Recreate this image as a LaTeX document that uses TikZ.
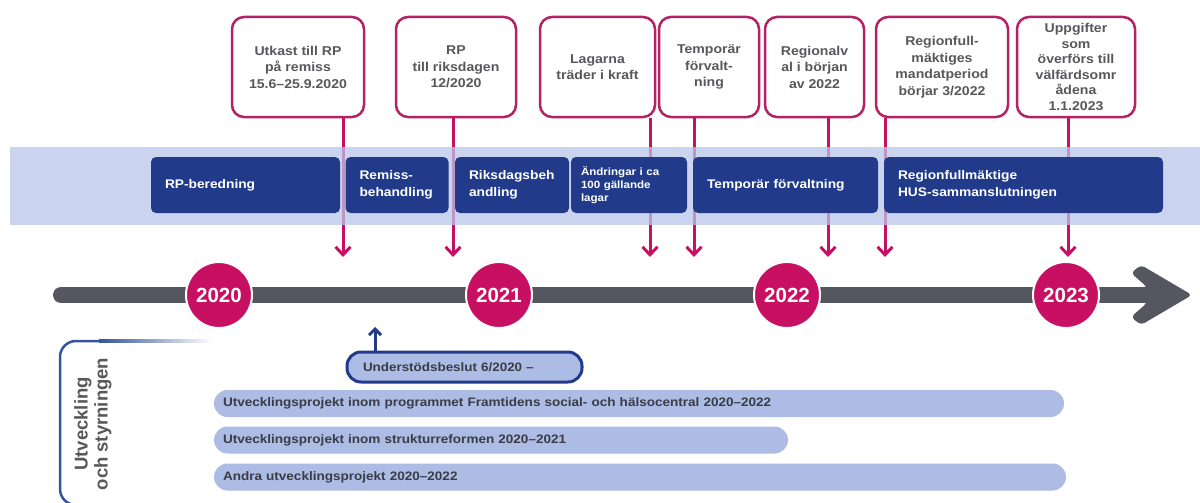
\documentclass[tikz,border=0pt]{standalone}
\usepackage{fontspec}
\setmainfont{Liberation Sans}
\newfontfamily\widesans{Liberation Sans}[FakeStretch=1.1]
\usepackage{tikz}
\usetikzlibrary{arrows.meta}

\definecolor{ptpink}{RGB}{200,16,98}
\definecolor{ptpinkdark}{RGB}{178,34,100}
\definecolor{ptnavy}{RGB}{33,59,138}
\definecolor{ptband}{RGB}{184,197,232}
\definecolor{ptbar}{RGB}{172,188,228}
\definecolor{ptgrey}{RGB}{84,86,96}
\definecolor{ptframe}{RGB}{52,84,156}
\definecolor{pttext}{RGB}{88,88,92}
\definecolor{ptbartext}{RGB}{58,60,70}

\begin{document}
\begin{tikzpicture}[x=1pt, y=-1pt,
  milestone/.style={draw=ptpinkdark, line width=2.5, rounded corners=12, fill=white,
    minimum height=100, inner sep=2, align=center, text=pttext,
    font=\widesans\bfseries\fontsize{12.8}{16.5}\selectfont},
  phase/.style={fill=ptnavy, rounded corners=5, minimum height=56, inner xsep=14,
    align=left, text=white, font=\widesans\bfseries\fontsize{12.5}{17}\selectfont},
  drop/.style={draw=ptpink, line width=3, -{Straight Barb[length=8pt,width=15pt]}},
  year/.style={circle, fill=ptpink, draw=white, line width=2, minimum size=66, inner sep=0,
    text=white, font=\bfseries\fontsize{20.5}{20.5}\selectfont},
  pill/.style={draw=ptnavy, line width=3, fill=ptbar, rounded corners=14, minimum height=30,
    inner xsep=16, align=left, text=ptbartext, font=\widesans\bfseries\fontsize{12.2}{14}\selectfont},
  track/.style={fill=ptbar, rounded corners=13.5, minimum height=27, inner xsep=9,
    align=left, text=ptbartext, font=\widesans\bfseries\fontsize{12.3}{14}\selectfont}]
\useasboundingbox (0,0) rectangle (1200,503);

\node[milestone, minimum width=132] (utkast) at (298,67) {Utkast till RP\\på remiss\\15.6–25.9.2020};
\node[milestone, minimum width=120] (rp) at (456,67) {RP\\till riksdagen\\12/2020};
\node[milestone, minimum width=115] (lagarna) at (597.5,67) {Lagarna\\träder i kraft};
\node[milestone, minimum width=100] (temp) at (709,67) {Temporär\\förvalt-\\ning};
\node[milestone, minimum width=99] (regionalv) at (814.5,67) {Regionalv\\al i början\\av 2022};
\node[milestone, minimum width=132] (regionfull) at (942,67) {Regionfull-\\mäktiges\\mandatperiod\\börjar 3/2022};
\node[milestone, minimum width=118, font=\widesans\bfseries\fontsize{12.8}{15.6}\selectfont] (uppgifter) at (1076,67) {Uppgifter\\som\\överförs till\\välfärdsomr\\ådena\\1.1.2023};

\foreach \n/\x in {utkast/343, rp/453, lagarna/650, temp/694, regionalv/828, regionfull/885, uppgifter/1068}
{
  \coordinate (d-\n) at (\x,257);
  \draw[drop] (\n.south -| d-\n) -- (d-\n);
}

\fill[ptband, opacity=0.75] (10,147) rectangle (1200,225);

\node[phase, text width=161] (bered) at (245.5,185) {RP-beredning};
\node[phase, text width=75] (remiss) at (397,185) {Remiss-\\behandling};
\node[phase, text width=86] (riksdag) at (512,185) {Riksdagsbeh\\andling};
\node[phase, text width=96, inner xsep=10, font=\widesans\bfseries\fontsize{10.5}{13}\selectfont] (andring) at (629,185) {Ändringar i ca\\100 gällande\\lagar};
\node[phase, text width=157] (tempforv) at (785.5,185) {Temporär förvaltning};
\node[phase, text width=251] (hus) at (1023.5,185) {Regionfullmäktige\\HUS-sammanslutningen};

\draw[ptgrey, line width=16, line cap=round] (61,295) -- (1150,295);
\fill[ptgrey, rounded corners=4] (1147,287) -- (1131,273) -- (1141,265) -- (1192,295)
  -- (1141,325) -- (1131,317) -- (1147,303) -- cycle;

\node[year] (y2020) at (219,295) {2020};
\node[year] (y2021) at (499,295) {2021};
\node[year] (y2022) at (787,295) {2022};
\node[year] (y2023) at (1066,295) {2023};

\node[pill, text width=203] (stod) at (464.5,367) {Understödsbeslut 6/2020 –};
\coordinate (stodtip) at (375,327);
\draw[ptnavy, line width=3, -{Straight Barb[length=6pt,width=12pt]}] (stod.north -| stodtip) -- (stodtip);

\node[track, text width=832] (framtid) at (639,403.5) {Utvecklingsprojekt inom programmet Framtidens social- och hälsocentral 2020–2022};
\node[track, text width=556] (struktur) at (501,440) {Utvecklingsprojekt inom strukturreformen 2020–2021};
\node[track, text width=834] (andra) at (640,477) {Andra utvecklingsprojekt 2020–2022};

\begin{scope}
  \clip (0,0) rectangle (1200,503);
  \draw[ptframe, line width=2.5, rounded corners=16] (100,341) -- (60,341) -- (60,505) -- (130,505);
  \shade[left color=ptframe, right color=white] (99,339.75) rectangle (212,342.25);
\end{scope}
\node[rotate=90, align=center, text=pttext, font=\bfseries\fontsize{18.5}{20}\selectfont] (side) at (93,424) {Utveckling\\och styrningen};
\end{tikzpicture}
\end{document}
